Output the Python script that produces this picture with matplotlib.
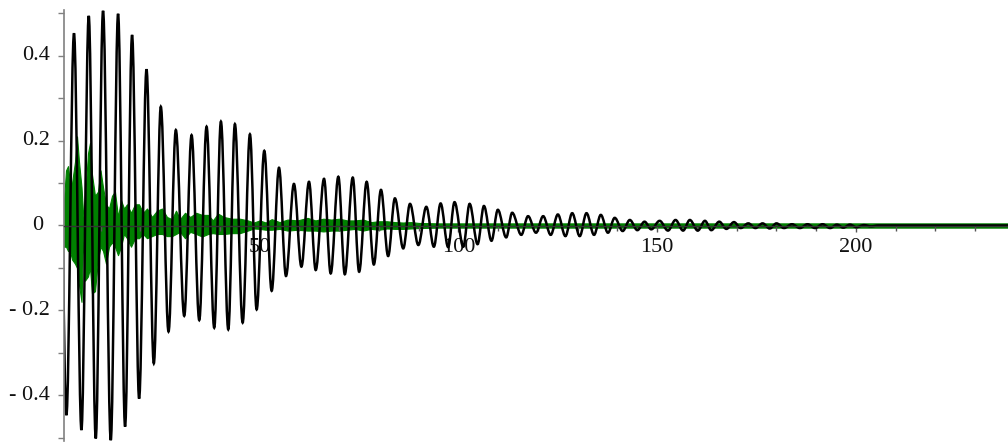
import matplotlib
matplotlib.use("Agg")
import matplotlib.pyplot as plt
from matplotlib.path import Path
from matplotlib.patches import PathPatch
from matplotlib.ticker import FixedLocator, MultipleLocator

# ---- data ----
# black response: successive extrema (time, value)
ext_t = [-0.48, 1.36, 3.27, 5.14, 6.98, 8.74, 10.58, 12.52, 14.36, 16.12, 17.88,
         19.65, 21.51, 23.35, 25.11, 27.05, 28.89, 31.0, 32.85, 34.78, 36.62,
         38.55, 40.23, 42.08, 43.75, 45.7, 47.53, 49.22, 51.14, 53.0, 54.84,
         56.6, 58.6, 60.48, 62.39, 64.08, 66.17, 67.85, 69.77, 71.4, 73.4,
         75.0, 76.9, 78.7, 80.5, 82.3, 84.0, 86.1, 87.8, 89.9, 91.9,
         93.8, 95.5, 97.4, 99.0, 101.2, 102.8, 104.8, 106.4, 108.3, 109.9,
         112.0, 113.5, 115.8, 117.5, 119.5, 121.3, 123.2, 125.0, 126.9, 128.6,
         130.5, 132.2, 134.1, 135.8, 137.6, 139.3, 141.3, 143.1, 145.0, 146.8,
         148.5, 150.6, 152.7, 154.6, 156.5, 158.2, 160.2, 162.0, 163.6, 165.6,
         167.4, 169.3, 171.0, 172.9, 174.7, 176.5, 178.3, 180.0, 181.9, 183.9,
         185.9, 187.8, 189.7, 191.6, 193.5, 195.2, 196.8, 198.5, 200.1, 202.0,
         203.8, 205.6, 238.3]
ext_v = [0.40, -0.447, 0.453, -0.482, 0.494, -0.502, 0.506, -0.506, 0.499, -0.474, 0.449,
         -0.408, 0.368, -0.325, 0.280, -0.250, 0.225, -0.213, 0.213, -0.223, 0.233,
         -0.241, 0.245, -0.245, 0.239, -0.229, 0.215, -0.198, 0.176, -0.154, 0.136,
         -0.119, 0.098, -0.097, 0.103, -0.105, 0.110, -0.113, 0.115, -0.115, 0.113,
         -0.109, 0.103, -0.092, 0.084, -0.072, 0.064, -0.054, 0.051, -0.046, 0.044,
         -0.050, 0.052, -0.051, 0.055, -0.050, 0.051, -0.044, 0.046, -0.036, 0.037,
         -0.028, 0.030, -0.022, 0.022, -0.017, 0.022, -0.022, 0.026, -0.025, 0.029,
         -0.025, 0.029, -0.022, 0.025, -0.017, 0.018, -0.013, 0.013, -0.011, 0.009,
         -0.009, 0.011, -0.012, 0.013, -0.012, 0.013, -0.012, 0.011, -0.011, 0.009,
         -0.008, 0.008, -0.006, 0.005, -0.006, 0.005, -0.007, 0.005, -0.006, 0.003,
         -0.006, 0.003, -0.006, 0.003, -0.006, 0.002, -0.005, 0.002, -0.004, 0.001,
         -0.002, 0.0, 0.0]

# green response: upper / lower envelope of the fast oscillation
green_t = [0.755, 1.26, 1.76, 2.26, 2.77, 3.52, 4.03, 4.53, 5.16, 5.61, 6.04,
           6.79, 7.30, 7.80, 8.55, 9.31, 9.94, 10.57, 11.32, 12.08, 12.83,
           13.58, 14.34, 15.09, 15.85, 16.60, 17.61, 18.62, 19.62, 20.63, 21.64,
           22.89, 24.15, 25.41, 26.67, 27.92, 28.93, 29.94, 31.2, 32.5, 34.0,
           35.5, 37.0, 38.2, 39.5, 41.0, 43.0, 45.0, 47.0, 48.5, 50.0,
           51.5, 53.0, 55.0, 57.0, 59.5, 62.0, 64.0, 66.0, 68.0, 70.0,
           72.0, 74.0, 76.0, 78.0, 80.0, 82.0, 84.0, 86.0, 88.0, 90.0,
           95.0, 238.3]
green_hi = [0.06, 0.13, 0.14, 0.10, 0.10, 0.15, 0.21, 0.15, 0.09, 0.02, 0.06,
            0.17, 0.195, 0.12, 0.07, 0.08, 0.13, 0.09, 0.05, 0.04, 0.07,
            0.08, 0.02, 0.06, 0.04, 0.05, 0.03, 0.05, 0.05, 0.03, 0.04,
            0.02, 0.035, 0.04, 0.02, 0.015, 0.035, 0.015, 0.03, 0.02, 0.03,
            0.025, 0.025, 0.012, 0.028, 0.02, 0.016, 0.016, 0.012, 0.007, 0.012,
            0.007, 0.015, 0.008, 0.014, 0.012, 0.018, 0.012, 0.016, 0.014, 0.016,
            0.012, 0.012, 0.014, 0.008, 0.010, 0.010, 0.008, 0.007, 0.008, 0.006,
            0.005, 0.005]
green_lo = [-0.05, -0.05, -0.06, -0.06, -0.08, -0.09, -0.10, -0.14, -0.18, -0.02, -0.13,
            -0.12, -0.10, -0.16, -0.155, -0.08, -0.05, -0.06, -0.09, -0.05, -0.04,
            -0.05, -0.07, -0.05, -0.02, -0.03, -0.05, -0.03, -0.03, -0.02, -0.03,
            -0.025, -0.02, -0.02, -0.025, -0.025, -0.02, -0.015, -0.03, -0.015, -0.02,
            -0.026, -0.02, -0.018, -0.02, -0.02, -0.018, -0.018, -0.012, -0.007, -0.008,
            -0.010, -0.010, -0.008, -0.012, -0.010, -0.012, -0.012, -0.014, -0.012, -0.012,
            -0.010, -0.008, -0.012, -0.008, -0.010, -0.007, -0.008, -0.008, -0.007, -0.006,
            -0.005, -0.005]

x_tick_vals = [50, 100, 150, 200]
y_tick_vals = [-0.4, -0.2, 0.0, 0.2, 0.4]
y_tick_labels = ["- 0.4", "- 0.2", "0", "0.2", "0.4"]

# ---- figure ----
SERIF = "Liberation Serif"
fig = plt.figure(figsize=(10.08, 4.43), dpi=100)
ax = fig.add_axes([64 / 1008, 2 / 443, 944 / 1008, 431 / 443])
ax.set_xlim(0.755, 238.24)
ax.set_ylim(-0.508, 0.508)

ax.fill_between(green_t, green_lo, green_hi, color="green", lw=0.8, zorder=1)

# smooth curve through the extrema (horizontal tangents at each extremum)
k = 0.36
verts = [(ext_t[0], ext_v[0])]
codes = [Path.MOVETO]
for i in range(len(ext_t) - 1):
    dt = ext_t[i + 1] - ext_t[i]
    verts += [(ext_t[i] + k * dt, ext_v[i]),
              (ext_t[i + 1] - k * dt, ext_v[i + 1]),
              (ext_t[i + 1], ext_v[i + 1])]
    codes += [Path.CURVE4] * 3
ax.add_patch(PathPatch(Path(verts, codes), facecolor="none", edgecolor="black",
                       lw=1.8, zorder=2))

for s in ("top", "right"):
    ax.spines[s].set_visible(False)
ax.spines["left"].set_color("#808080")
ax.spines["left"].set_linewidth(1.2)
ax.spines["bottom"].set_position(("data", 0))
ax.spines["bottom"].set_color("#333333")
ax.spines["bottom"].set_linewidth(1.0)
ax.spines["bottom"].set_zorder(3)

ax.xaxis.set_major_locator(FixedLocator(x_tick_vals))
ax.xaxis.set_minor_locator(MultipleLocator(10))
ax.yaxis.set_major_locator(MultipleLocator(0.1))
ax.tick_params(axis="x", which="major", direction="out", length=4, width=1,
               color="#555555", labelsize=16, pad=5)
ax.tick_params(axis="x", which="minor", direction="out", length=3.5, width=1,
               color="#555555")
ax.tick_params(axis="y", which="major", direction="out", length=4.5, width=1,
               color="#808080", labelleft=False)
for lab in ax.get_xticklabels():
    lab.set_fontfamily(SERIF)
    lab.set_color("#111111")

for v, s in zip(y_tick_vals, y_tick_labels):
    off = -20.7 if s == "0" else -14
    ax.annotate(s, xy=(0, v), xycoords=("axes fraction", "data"),
                xytext=(off, 0), textcoords="offset pixels",
                ha="right", va="center", fontsize=16, family=SERIF,
                color="#111111", annotation_clip=False)

fig.savefig("out.png", dpi=100)
